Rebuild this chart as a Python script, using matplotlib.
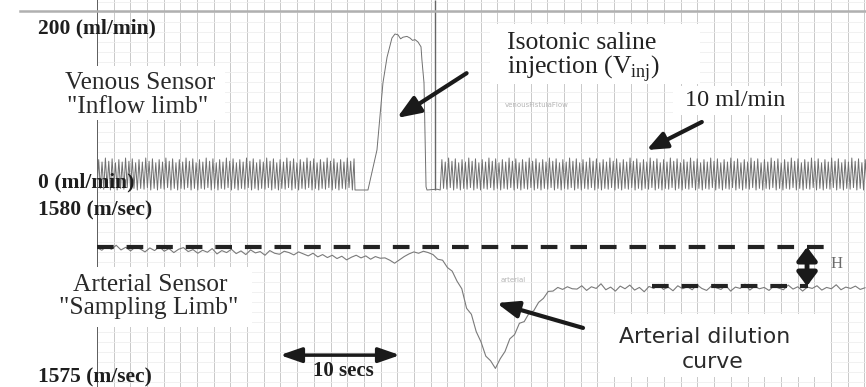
import matplotlib
matplotlib.use("Agg")
import matplotlib.pyplot as plt
import numpy as np
from matplotlib.lines import Line2D
from matplotlib.patches import Rectangle

plt.rcParams['mathtext.fontset'] = 'custom'
plt.rcParams['mathtext.rm'] = 'Liberation Serif'

# ---- recorded data -------------------------------------------------------
# venous (inflow) channel, ml/min: pump pulsation cycle, sampled every pump_step s
pump_cycle = [0, 38, 2, 35, 1, 40, 3, 36, 0, 39, 2, 34]
pump_step = 0.14
pump_off_t = 21.5      # pump pulsation stops
pump_on_t = 28.6       # pump pulsation resumes

# saline bolus seen by the venous sensor (time s, flow ml/min)
bolus_t = [21.5, 22.58, 23.33, 23.83, 24.17, 24.58, 24.83, 25.08, 25.3, 25.5, 25.83,
           26.08, 26.3, 26.5, 26.75, 27.0, 27.08, 27.25, 27.33, 27.42, 27.5, 28.33, 28.6]
bolus_v = [0, 0, 50, 134, 166, 190, 195, 194, 189, 191, 192,
           190, 187, 188, 185, 179, 162, 134, 71, 4, 0, 1, 0]

marker_t = 28.2        # injection event marker

# arterial (sampling limb) channel, m/sec, sampled every arterial_dt s
arterial_dt = 0.4
arterial_v = [
    1578.93, 1578.85, 1578.97, 1578.88, 1579.00, 1578.86, 1578.94, 1578.83, 1578.95, 1578.89,
    1578.80, 1578.92, 1578.84, 1578.96, 1578.82, 1578.90, 1578.78, 1578.88, 1578.93, 1578.81,
    1578.87, 1578.76, 1578.85, 1578.79, 1578.90, 1578.74, 1578.84, 1578.78, 1578.88, 1578.75,
    1578.83, 1578.72, 1578.86, 1578.77, 1578.81, 1578.70, 1578.84, 1578.76, 1578.73, 1578.82,
    1578.78, 1578.71, 1578.80, 1578.74, 1578.68, 1578.76, 1578.65, 1578.72, 1578.63, 1578.70,
    1578.60, 1578.67, 1578.56, 1578.64, 1578.70, 1578.62, 1578.68, 1578.58, 1578.66, 1578.61,
    1578.62, 1578.55, 1578.46, 1578.56, 1578.66, 1578.74, 1578.80, 1578.76, 1578.82, 1578.78,
    1578.72, 1578.58, 1578.55, 1578.33, 1578.22, 1577.92, 1577.69, 1577.10, 1576.92, 1576.40,
    1576.09, 1575.66, 1575.52, 1575.29, 1575.58, 1575.80, 1576.18, 1576.31, 1576.65, 1576.70,
    1576.95, 1577.03, 1577.28, 1577.40, 1577.61, 1577.62, 1577.73, 1577.67, 1577.75, 1577.69,
    1577.68, 1577.78, 1577.64, 1577.75, 1577.70, 1577.84, 1577.66, 1577.74, 1577.62, 1577.77,
    1577.69, 1577.80, 1577.65, 1577.73, 1577.60, 1577.76, 1577.70, 1577.82, 1577.67, 1577.74,
    1577.63, 1577.78, 1577.69, 1577.75, 1577.66, 1577.81, 1577.70, 1577.64, 1577.77, 1577.72,
    1577.67, 1577.79, 1577.62, 1577.74, 1577.70, 1577.83, 1577.65, 1577.76, 1577.69, 1577.73,
    1577.64, 1577.77, 1577.71, 1577.66, 1577.80, 1577.68, 1577.75, 1577.62, 1577.74, 1577.70,
    1577.78, 1577.65, 1577.73, 1577.69, 1577.81, 1577.66, 1577.74, 1577.70, 1577.77, 1577.67,
    1577.72,
]
baseline_before = 1578.95
baseline_after = 1577.77
baseline_after_t = (46.25, 59.25)
baseline_before_end = 61.3

# ---- build venous trace --------------------------------------------------
def pump_segment(t0, t1):
    t = np.arange(t0, t1, pump_step)
    return t, np.resize(pump_cycle, len(t))

t1, v1 = pump_segment(0, pump_off_t)
t2, v2 = pump_segment(pump_on_t, 64.2)
venous_t = np.concatenate([t1, bolus_t, t2])
venous_v = np.concatenate([v1, bolus_v, v2])
arterial_t = np.arange(len(arterial_v)) * arterial_dt

# ---- figure --------------------------------------------------------------
W, H = 866, 387
fig = plt.figure(figsize=(W / 100, H / 100), dpi=100)
fig.patch.set_facecolor('white')

def px(x, y):
    return x / W, 1 - y / H

rect = [97 / W, 0, (W - 97) / W, 1]
ax_v = fig.add_axes(rect)
ax_a = fig.add_axes(rect, sharex=ax_v)
ax_a.patch.set_alpha(0)

ax_v.set_xlim(0, (W - 97) / 12)
ax_v.set_ylim(-246.25, 237.5)
ax_a.set_ylim(1574.73, 1586.39)

for ax in (ax_v, ax_a):
    for s in ax.spines.values():
        s.set_visible(False)
    ax.tick_params(length=0, labelbottom=False, labelleft=False)

# recorder grid
ax_v.set_xticks(np.arange(0, 64.2, 1.39))
ax_v.set_yticks(np.arange(-240, 237, 12.5))
ax_v.grid(axis='x', color='#c9c9c9', lw=0.7)
ax_v.grid(axis='y', color='#efefef', lw=0.6)
ax_v.axvline(0, color='#555555', lw=1.3)
ax_v.vlines(marker_t, 0, 237.5, color='#666666', lw=1.0)
fig.add_artist(Line2D([20 / W, 1], [1 - 11 / H] * 2, color='#b0b0b0', lw=1.8))

# traces
ax_v.plot(venous_t, venous_v, color='#707070', lw=0.7, zorder=3)
ax_a.plot(arterial_t, arterial_v, color='#7a7a7a', lw=0.8, zorder=3)

# baselines for the dilution height
dash = (0, (4.0, 3.1))
ax_a.plot([0, baseline_before_end], [baseline_before] * 2, color='#222222', lw=3, ls=dash, zorder=4)
ax_a.plot(baseline_after_t, [baseline_after] * 2, color='#222222', lw=3, ls=dash, zorder=4)

# arrows
def arrow(ax, head, tail, style='-|>', hl=1.4, hw=0.55, lw=3):
    ax.annotate('', xy=head, xytext=tail, zorder=6,
                arrowprops=dict(arrowstyle=f'{style},head_length={hl},head_width={hw}',
                                lw=lw, color='#1a1a1a', shrinkA=0, shrinkB=0))

arrow(ax_v, (25.0, 90), (30.8, 146))
arrow(ax_v, (45.8, 50), (50.4, 85), hl=1.2, hw=0.5)
arrow(ax_a, (33.3, 1577.26), (40.5, 1576.51), hl=1.3, hw=0.5)
arrow(ax_a, (25.25, 1575.69), (15.25, 1575.69), style='<|-|>', hl=1.3, hw=0.45, lw=2.5)
arrow(ax_a, (59.17, baseline_after), (59.17, baseline_before), style='<|-|>', hl=0.8, hw=0.6, lw=3.5)

# channel name tags
ax_v.text(34.0, 106, 'venousFistulaFlow', fontsize=5, color='#b5b5b5', va='center')
ax_a.text(33.6, 1577.95, 'arterial', fontsize=5, color='#b5b5b5', va='center')

# white label panels pasted over the recording
for x0, y0, x1, y1 in [(55, 66, 225, 120), (45, 267, 252, 327), (490, 24, 700, 84),
                       (673, 86, 797, 115), (600, 314, 830, 377)]:
    fig.add_artist(Rectangle(px(x0, y1), (x1 - x0) / W, (y1 - y0) / H,
                             transform=fig.transFigure, fc='white', ec='none', zorder=2))

# scale labels
serif = 'Liberation Serif'
for label, y in [('200 (ml/min)', 28), ('0 (ml/min)', 182), ('1580 (m/sec)', 210), ('1575 (m/sec)', 377)]:
    fig.text(*px(38, y), label, family=serif, weight='bold', fontsize=15.5,
             color='#1e1e1e', ha='left', va='center')

# channel descriptions
for label, x, y in [('Venous Sensor', 140, 83), ('"Inflow limb"', 138, 107),
                    ('Arterial Sensor', 150, 285), ('"Sampling Limb"', 149, 308)]:
    fig.text(*px(x, y), label, family=serif, fontsize=18.3, color='#2a2a2a',
             ha='center', va='center')

fig.text(*px(507, 43), 'Isotonic saline', family=serif, fontsize=18.5, color='#222222',
         ha='left', va='center')
fig.text(*px(507, 68), r'injection (V$_{\mathrm{inj}}$)', family=serif, fontsize=18.5,
         color='#222222', ha='left', va='center')
fig.text(*px(735, 100), '10 ml/min', family=serif, fontsize=17.5, color='#222222',
         ha='center', va='center')
fig.text(*px(343, 371), '10 secs', family=serif, weight='bold', fontsize=15,
         color='#1e1e1e', ha='center', va='center')
fig.text(*px(837, 264), 'H', family=serif, fontsize=12, color='#6a6a6a',
         ha='center', va='center')
fig.text(*px(705, 337), 'Arterial dilution', family='DejaVu Sans', fontsize=15.8,
         color='#2a2a2a', ha='center', va='center')
fig.text(*px(713, 362), 'curve', family='DejaVu Sans', fontsize=15.8,
         color='#2a2a2a', ha='center', va='center')

fig.savefig('out.png', dpi=100)
